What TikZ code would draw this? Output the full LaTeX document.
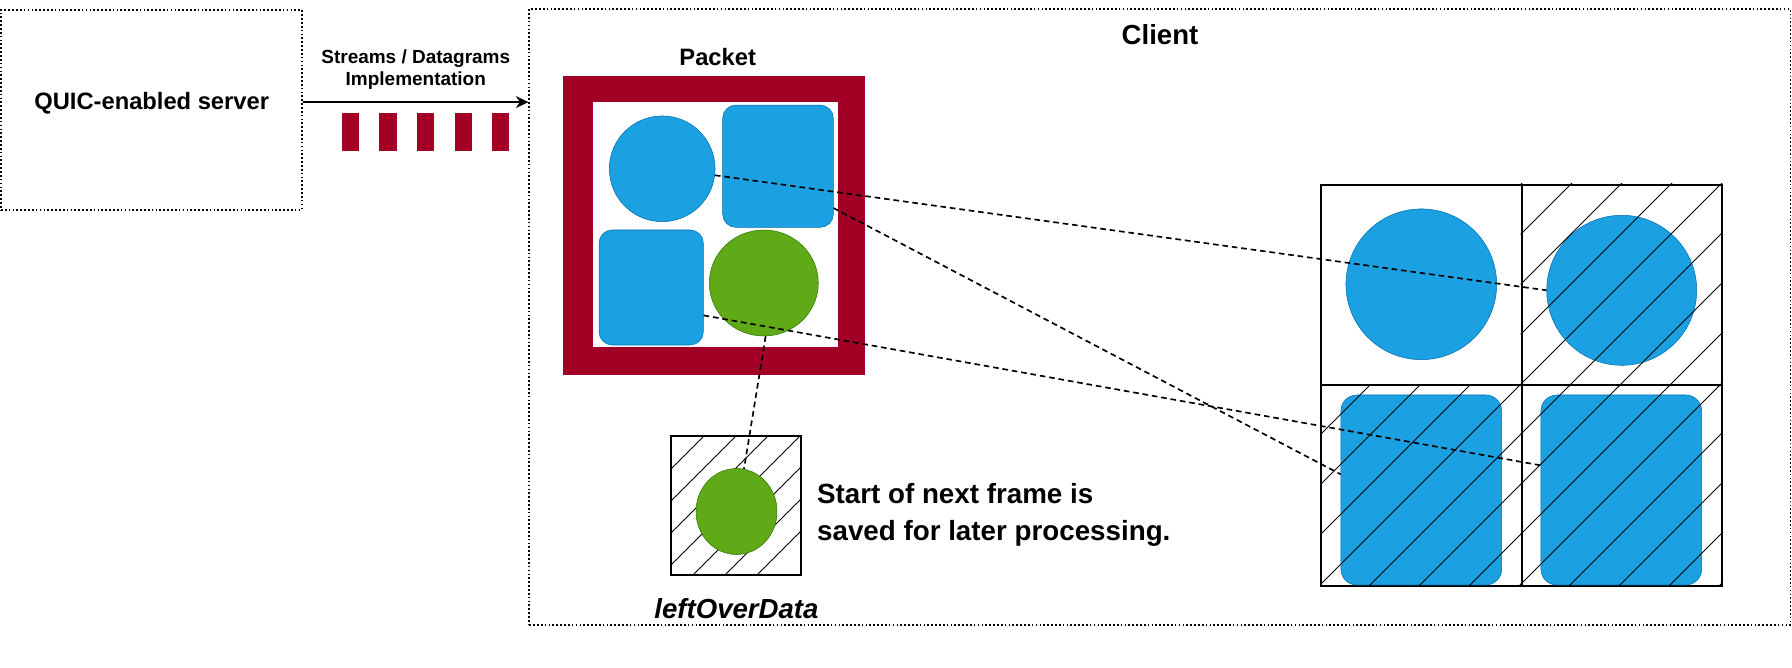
\documentclass[tikz,border=0pt]{standalone}
\usepackage{fontspec}
\setmainfont{Liberation Sans}
\usepackage{tikz}
\usetikzlibrary{shapes.geometric,calc,arrows.meta}

\newlength\pxu
\setlength\pxu{0.02cm}

\definecolor{crimson}{HTML}{A20025}
\definecolor{qblue}{HTML}{1BA1E2}
\definecolor{qbluedark}{HTML}{006EAF}
\definecolor{qgreen}{HTML}{60A917}
\definecolor{qgreendark}{HTML}{2D7600}

\tikzset{
  box/.style={draw, line width=0.95pt, dash pattern=on 0.95pt off 1.25pt, inner sep=0pt},
  txt/.style={font=\bfseries\fontsize{#1}{#1}\selectfont, inner sep=0pt},
  bar/.style={fill=crimson, minimum width=17.3\pxu, minimum height=38\pxu, inner sep=0pt},
  cell/.style={draw, line width=1.1pt, minimum size=200.35\pxu, inner sep=0pt},
  hatch/.style={line width=0.45pt},
  bluecirc/.style={circle, fill=qblue, draw=qbluedark, line width=0.3pt, inner sep=0pt},
  bluebox/.style={rectangle, rounded corners=7.5pt, fill=qblue, draw=qbluedark, line width=0.3pt, inner sep=0pt},
  greenell/.style={ellipse, fill=qgreen, draw=qgreendark, line width=0.3pt, inner sep=0pt},
  link/.style={line width=0.95pt, dash pattern=on 3.2pt off 2.2pt},
  flow/.style={line width=0.8pt, -{Stealth[length=7.2pt,width=6.8pt]}}
}

\begin{document}
\begin{tikzpicture}[x=0.02cm, y=-0.02cm]
    \useasboundingbox (0,0) rectangle (1792,668);

    % Server and client
    \node[box, minimum width=300.7\pxu, minimum height=200\pxu] (server) at (151.35,110) {};
    \node[txt=13.5] (srvlbl) at (151.7,103) {QUIC-enabled server};
    \node[box, minimum width=1261.2\pxu, minimum height=616\pxu] (client) at (1159.9,317) {};
    \node[txt=15.7] (clientlbl) at (1160,35) {Client};

    % Transfer
    \draw[flow] (server.3) -- (server.3 -| client.west);
    \node[font=\bfseries\fontsize{10.8}{12.9}\selectfont, align=center, inner sep=0pt] (flowlbl) at (415.8,69.7) {Streams / Datagrams\\Implementation};
    \foreach \i in {0,...,4} \node[bar] (bar\i) at (350.4+37.6*\i,132) {};

    % Packet
    \node[fill=crimson, minimum width=302.5\pxu, minimum height=299.3\pxu, inner sep=0pt] (packet) at (713.8,225.4) {};
    \node[fill=white, minimum width=244.7\pxu, minimum height=245\pxu, inner sep=0pt] (pktin) at (715.7,224.8) {};
    \node[txt=13.5] (pktlbl) at (717.7,56.7) {Packet};
    \node[bluecirc, minimum size=105.7\pxu] (pc1) at (662.2,168.8) {};
    \node[bluebox, minimum width=110.6\pxu, minimum height=122.3\pxu] (pr1) at (778,166.2) {};
    \node[bluebox, minimum width=104.3\pxu, minimum height=115\pxu] (pr2) at (651.2,287.5) {};
    \node[greenell, minimum width=109\pxu, minimum height=106\pxu] (pg) at (763.8,283) {};

    % Left over data
    \node[draw, line width=1.1pt, minimum width=130\pxu, minimum height=139\pxu, inner sep=0pt] (lobox) at (736,505.5) {};
    \begin{scope}
        \clip (lobox.south west) rectangle (lobox.north east);
        \foreach \k in {0,...,6} \draw[hatch] (720+32*\k,420) -- (550+32*\k,590);
    \end{scope}
    \node[greenell, minimum width=81\pxu, minimum height=86\pxu] (lo) at (736.5,511.5) {};
    \node[font=\bfseries\itshape\fontsize{15.7}{18}\selectfont, inner sep=0pt] (lolbl) at (736.5,609) {leftOverData};
    \node[font=\bfseries\fontsize{15.8}{20.9}\selectfont, align=left, anchor=west, inner sep=0pt] (note) at (816.8,515.2) {Start of next frame is\\saved for later processing.};

    % Frames on the client
    \foreach \row/\y in {1/285.1,2/485.4}
        \foreach \col/\x in {1/1421.35,2/1621.7}
            \node[cell] (c\row\col) at (\x,\y) {};
    \node[bluecirc, minimum size=150.7\pxu] (gc1) at (1421.3,284.3) {};
    \node[bluecirc, minimum size=150\pxu] (gc2) at (1621.7,290.3) {};
    \node[bluebox, rounded corners=9pt, minimum width=160.7\pxu, minimum height=190\pxu] (gr1) at (1421.3,490) {};
    \node[bluebox, rounded corners=9pt, minimum width=160.7\pxu, minimum height=190\pxu] (gr2) at (1621.3,490) {};
    \foreach \cc in {c12,c21,c22} {
        \begin{scope}
            \clip (\cc.south west) rectangle (\cc.north east);
            \foreach \k in {-5,...,11} \draw[hatch] (1605+50*\k,150) -- (1135+50*\k,620);
        \end{scope}
    }

    % Links
    \draw[link] (pc1.-7) -- (gc2.west);
    \draw[link] (pr1.-37) -- (gr1.169);
    \draw[link] (pr2.-28) -- (gr2.163);
    \draw[link] (pg.-88) -- (lo.80);
\end{tikzpicture}
\end{document}
